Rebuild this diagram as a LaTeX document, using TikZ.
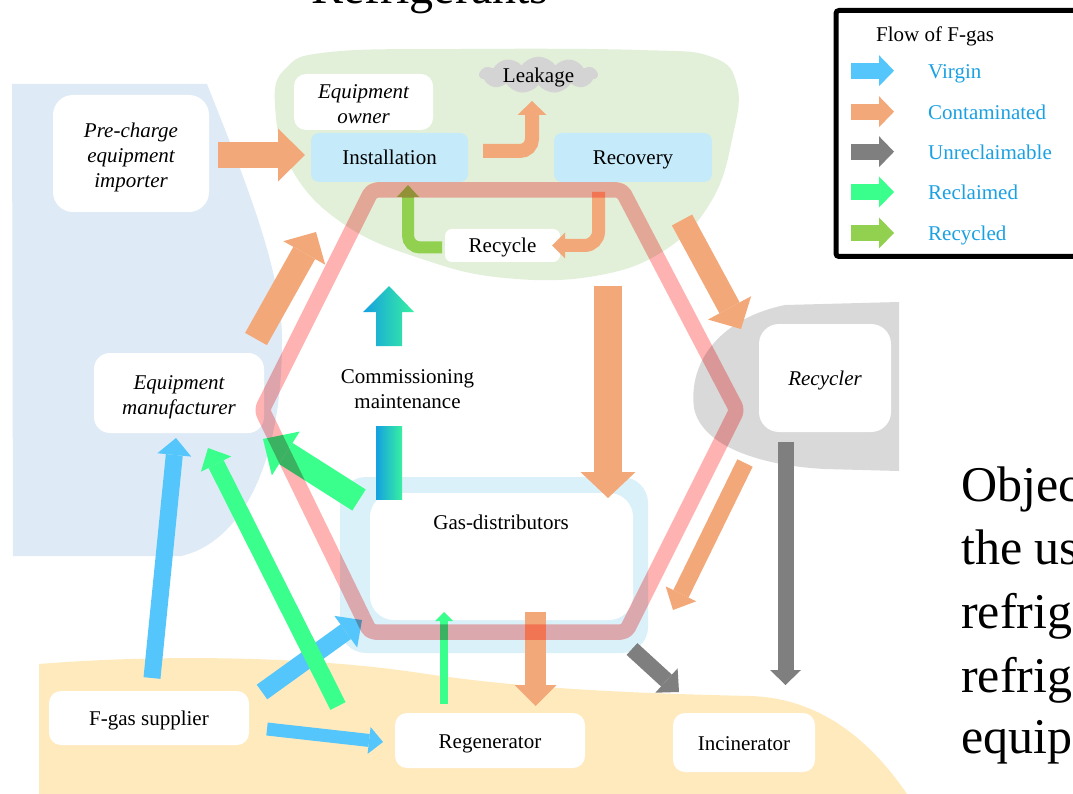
\documentclass[tikz,border=0pt]{standalone}
\usepackage{fontspec}
\setmainfont{Liberation Serif}
\usetikzlibrary{arrows.meta,shapes.symbols}
\definecolor{orng}{HTML}{F2A878}
\definecolor{vblue}{HTML}{55C6FB}
\definecolor{rgreen}{HTML}{3AFF8C}
\definecolor{cgreen}{HTML}{92D050}
\definecolor{ugray}{HTML}{7F7F7F}
\definecolor{lblue}{HTML}{DEEBF7}
\definecolor{lgreen}{HTML}{E2F0D9}
\definecolor{lgray}{HTML}{D9D9D9}
\definecolor{cloudgray}{HTML}{D4D4D4}
\definecolor{lyellow}{HTML}{FFEABE}
\definecolor{boxblue}{HTML}{C5EBFA}
\definecolor{gdblue}{HTML}{DBF1FA}
\definecolor{pinkl}{HTML}{FFB2B2}
\definecolor{legtext}{HTML}{1BA1E2}
\definecolor{gradl}{HTML}{14A0E1}
\definecolor{gradr}{HTML}{38F0A0}
\newcommand{\lift}[1]{\rule{0pt}{#1}}
\begin{document}
\begin{tikzpicture}[x=1pt,y=-1pt,
  every node/.style={inner sep=0pt},
  txt/.style={font=\fontsize{21}{25}\selectfont},
  itxt/.style={font=\fontsize{21}{25}\selectfont\itshape},
  one/.style={text height=15pt, text depth=0pt},
  wbox/.style={fill=white, rounded corners=#1},
  wbox/.default=10pt,
  bbox/.style={fill=boxblue, rounded corners=8pt},
  blk/.style n args={3}{line width=#1, -{Triangle[width=#2, length=#3, line width=0pt]}},
  big/.style={font=\fontsize{50}{63}\selectfont, anchor=base west},
]
\useasboundingbox (0,0) rectangle (1073,794);
\fill[white] (0,0) rectangle (1073,794);

% ---------- background regions
\fill[lblue] (12,84) -- (207,84) .. controls (245,180) and (282,270) .. (282,340)
  .. controls (282,480) and (232,545) .. (181,556) -- (13,556) -- cycle;
\fill[lgreen] plot[smooth cycle, tension=0.7] coordinates {(275,105) (292,170) (345,225) (425,260) (505,278) (595,276) (665,250) (712,200) (733,135) (737,85) (712,57) (640,50) (460,49) (330,52) (286,68)};
\fill[lgray] (899,302) -- (899,471) -- (825,469) .. controls (765,466) and (702,448) .. (694,408)
  .. controls (688,360) and (722,318) .. (785,305) -- cycle;
\fill[lyellow] (39,794) -- (39,664) .. controls (150,655) and (300,655) .. (420,673)
  .. controls (520,688) and (620,693) .. (750,696) .. controls (820,698) and (870,740) .. (907,794) -- cycle;

% ---------- gas distributors
\fill[gdblue, rounded corners=26pt] (340,477) rectangle (648,653);
\node[fill=white, rounded corners=24pt, minimum width=263pt, minimum height=127pt] (gasd) at (501.5,556.5) {};
\node[txt, anchor=base] (gasdl) at (501,529) {Gas-distributors};

% ---------- boxes
\node[wbox=20pt, itxt, align=center, minimum width=156pt, minimum height=117pt] (imp) at (131,153.5) {\lift{22pt}Pre-charge\\equipment\\importer};
\node[wbox=12pt, itxt, align=center, minimum width=139pt, minimum height=56pt] (own) at (363.5,102) {\lift{18.5pt}Equipment\\owner};
\node[bbox, txt, one, minimum width=157pt, minimum height=49pt] (inst) at (389.5,157.5) {Installation};
\node[bbox, txt, one, minimum width=158pt, minimum height=49pt] (recov) at (633,157.5) {Recovery};
\node[wbox=7pt, txt, one, minimum width=115pt, minimum height=33pt] (recyc) at (502.5,245.5) {Recycle};
\node[cloud, cloud puffs=11, cloud puff arc=110, aspect=4.4, fill=cloudgray, txt, one, minimum width=118pt, minimum height=27pt] (leak) at (538.5,75) {Leakage};
\node[wbox=16pt, itxt, align=center, minimum width=170pt, minimum height=80pt] (manu) at (179,393) {\lift{22pt}Equipment\\manufacturer};
\node[txt, align=center] (comm) at (407.5,389) {Commissioning\\maintenance};
\node[wbox=20pt, itxt, one, minimum width=132pt, minimum height=108pt] (rcy) at (825,378) {Recycler};
\node[wbox=12pt, txt, one, minimum width=200pt, minimum height=54pt] (sup) at (149,718) {F-gas supplier};
\node[wbox=12pt, txt, one, minimum width=190pt, minimum height=55pt] (regen) at (490,740.5) {Regenerator};
\node[wbox=12pt, txt, one, minimum width=142pt, minimum height=59pt] (inc) at (744,742.5) {Incinerator};

% ---------- arrow end points
\coordinate (a1s) at (218,155);   \coordinate (a1e) at (305,155);
\coordinate (a2s) at (483,151);   \coordinate (a2e) at (532,101);
\coordinate (a3s) at (598.5,192); \coordinate (a3e) at (552,245.5);
\coordinate (a4s) at (442,247.5); \coordinate (a4e) at (408,185);
\coordinate (a5s) at (256,339);   \coordinate (a5e) at (316,232);
\coordinate (a6s) at (682,220);   \coordinate (a6e) at (741,329);
\coordinate (a7s) at (745,463);   \coordinate (a7e) at (673,610);
\coordinate (a8s) at (608,286);   \coordinate (a8e) at (608,498);
\coordinate (a10s) at (359,500);  \coordinate (a10e) at (263,439);
\coordinate (a11s) at (152,678);  \coordinate (a11e) at (176,438);
\coordinate (a12s) at (262,692);  \coordinate (a12e) at (362,620);
\coordinate (a13s) at (267,729);  \coordinate (a13e) at (383,742);
\coordinate (a14s) at (338,706);  \coordinate (a14e) at (208,448);
\coordinate (a15s) at (444,704);  \coordinate (a15e) at (444,612);
\coordinate (a16s) at (535.5,612);\coordinate (a16e) at (535.5,706);
\coordinate (a17s) at (632,649);  \coordinate (a17e) at (679,692);
\coordinate (a18s) at (785.5,442);\coordinate (a18e) at (785.5,685);

% ---------- arrows
\draw[orng, blk={26pt}{53pt}{27pt}] (a1s) -- (a1e);
\draw[orng, blk={14pt}{29pt}{14pt}, rounded corners=12pt] (a2s) -| (a2e);
\draw[orng, blk={13pt}{26pt}{13pt}, rounded corners=14pt] (a3s) |- (a3e);
\draw[cgreen, blk={12pt}{22pt}{12pt}, rounded corners=12pt] (a4s) -| (a4e);
\draw[orng, blk={25pt}{48pt}{24pt}] (a5s) -- (a5e);
\draw[orng, blk={23pt}{49pt}{24pt}] (a6s) -- (a6e);
\draw[orng, blk={17pt}{34pt}{18pt}] (a7s) -- (a7e);
\draw[orng, blk={28pt}{55pt}{26pt}] (a8s) -- (a8e);
\draw[rgreen, blk={25pt}{52pt}{27pt}] (a10s) -- (a10e);
\draw[vblue, blk={17pt}{34pt}{17pt}] (a11s) -- (a11e);
\draw[vblue, blk={18pt}{39pt}{20pt}] (a12s) -- (a12e);
\draw[vblue, blk={13pt}{27pt}{14pt}] (a13s) -- (a13e);
\draw[rgreen, blk={17pt}{34pt}{18pt}] (a14s) -- (a14e);
\draw[rgreen, blk={8pt}{18pt}{9pt}] (a15s) -- (a15e);
\draw[orng, blk={21pt}{42pt}{21pt}] (a16s) -- (a16e);
\draw[ugray, blk={16pt}{33pt}{17pt}] (a17s) -- (a17e);
\draw[ugray, blk={16pt}{31pt}{15pt}] (a18s) -- (a18e);

% commissioning / maintenance gradient arrow
\shade[left color=gradl, right color=gradr] (363,312) -- (389,286) -- (414,312) -- (402,312) -- (402,346) -- (376,346) -- (376,312) -- cycle;
\shade[left color=gradl, right color=gradr] (376,426) rectangle (402,499);

% ---------- life-cycle hexagon
\coordinate (h1) at (372,190); \coordinate (h2) at (622,190); \coordinate (h3) at (737,410);
\coordinate (h4) at (626,632); \coordinate (h5) at (370,632); \coordinate (h6) at (262,410);
\begin{scope}[blend mode=multiply]
\draw[pinkl, line width=15.5pt, line join=round, rounded corners=5pt] (h1) -- (h2) -- (h3) -- (h4) -- (h5) -- (h6) -- cycle;
\end{scope}

% ---------- legend
\draw[line width=5pt, rounded corners=3pt] (836,10.5) rectangle (1100,256.5);
\node[txt, anchor=base west] (legt) at (876,42) {Flow of F-gas};
\foreach \y/\c/\t/\n in {70.7/vblue/Virgin/1, 111.7/orng/Contaminated/2, 151.7/ugray/Unreclaimable/3, 192/rgreen/Reclaimed/4, 233/cgreen/Recycled/5}{
  \coordinate (ls\n) at (851,\y);
  \coordinate (le\n) at (894,\y);
  \draw[\c, blk={16pt}{31pt}{15pt}] (ls\n) -- (le\n);
  \node[txt, anchor=base west, text=legtext] (lt\n) at (928,{\y+7.6}) {\t};
}

% ---------- cut texts
\node[font=\fontsize{48}{50}\selectfont, anchor=base west] (title) at (311,4) {Refrigerants};
\node[big] (o1) at (961,501) {Objec};
\node[big] (o2) at (961,564) {the us};
\node[big] (o3) at (961,628) {refrig};
\node[big] (o4) at (961,692) {refrig};
\node[big] (o5) at (961,753) {equip};
\end{tikzpicture}
\end{document}
